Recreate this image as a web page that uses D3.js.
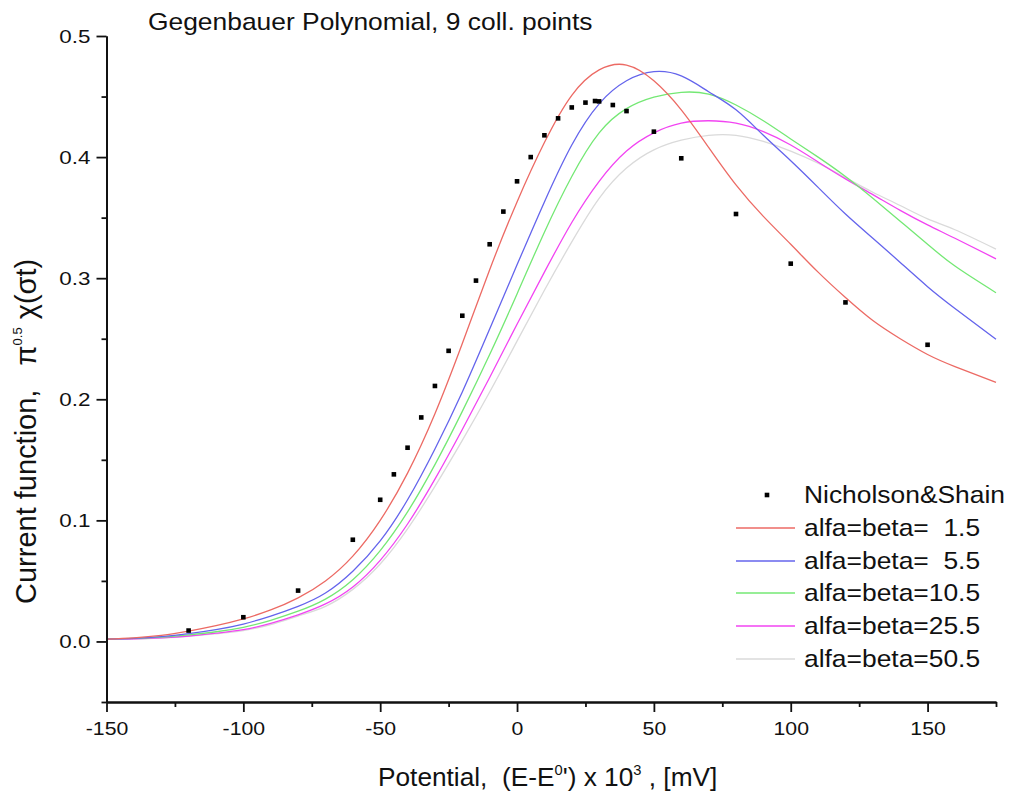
<!DOCTYPE html>
<html>
<head>
<meta charset="utf-8">
<script src="https://cdn.jsdelivr.net/npm/d3@7/dist/d3.min.js"></script>
<style>
  html, body { margin: 0; padding: 0; background: #fff; }
  svg { display: block; font-family: "Liberation Sans", Arial, sans-serif; }
  text { white-space: pre; fill: #111; }
</style>
</head>
<body>
<svg id="chart" width="1012" height="794"></svg>
<script>
// ---------------- data ----------------
const potentials = [-150,-140,-130,-120,-110,-100,-90,-80,-70,-60,-50,-40,-30,-20,-10,0,10,20,30,40,50,60,70,80,90,100,110,120,130,140,150,160,175];

const alfa1_5  = [0.002,0.003,0.005,0.0085,0.013,0.0186,0.026,0.036,0.050,0.0705,0.100,0.139,0.188,0.246,0.307,0.363,0.412,0.451,0.472,0.476,0.463,0.439,0.408,0.377,0.351,0.328,0.305,0.284,0.265,0.250,0.237,0.227,0.214];
const alfa5_5  = [0.002,0.0025,0.004,0.0065,0.0098,0.0144,0.021,0.029,0.040,0.058,0.083,0.117,0.159,0.206,0.258,0.311,0.363,0.410,0.444,0.463,0.4705,0.467,0.454,0.439,0.418,0.397,0.375,0.353,0.333,0.313,0.293,0.275,0.2496];
const alfa10_5 = [0.002,0.0025,0.0035,0.0055,0.008,0.0117,0.0175,0.025,0.035,0.051,0.075,0.107,0.146,0.190,0.237,0.287,0.338,0.384,0.420,0.440,0.4495,0.4535,0.452,0.443,0.430,0.415,0.400,0.384,0.366,0.347,0.328,0.310,0.288];
const alfa25_5 = [0.002,0.0022,0.003,0.0045,0.0068,0.0097,0.015,0.022,0.031,0.045,0.067,0.097,0.134,0.175,0.218,0.262,0.305,0.346,0.380,0.405,0.420,0.428,0.430,0.428,0.421,0.410,0.396,0.382,0.369,0.356,0.344,0.333,0.316];
const alfa50_5 = [0.002,0.002,0.0028,0.0042,0.0063,0.009,0.014,0.021,0.029,0.043,0.064,0.093,0.128,0.166,0.206,0.248,0.290,0.330,0.366,0.391,0.406,0.414,0.418,0.418,0.413,0.405,0.395,0.383,0.371,0.360,0.349,0.340,0.324];

const nsPotential = [-120,-100,-80,-60,-50,-45,-40,-35,-30,-25,-20,-15,-10,-5,0,5,10,15,20,25,28.5,30,35,40,50,60,80,100,120,150];
const nsCurrent   = [0.009,0.020,0.042,0.084,0.117,0.138,0.160,0.185,0.211,0.240,0.269,0.298,0.328,0.355,0.380,0.400,0.418,0.432,0.441,0.445,0.4463,0.446,0.443,0.438,0.421,0.399,0.353,0.312,0.280,0.245];

const seriesNames  = ["alfa=beta=  1.5","alfa=beta=  5.5","alfa=beta=10.5","alfa=beta=25.5","alfa=beta=50.5"];
const seriesValues = [alfa1_5, alfa5_5, alfa10_5, alfa25_5, alfa50_5];
const seriesColors = ["#ec6a64","#6464ec","#74e874","#f244f2","#dadada"];

const xMajorTicks = [-150,-100,-50,0,50,100,150];
const xMinorTicks = [-125,-75,-25,25,75,125,175];
const yMajorTicks = [0.0,0.1,0.2,0.3,0.4,0.5];
const yMinorTicks = [-0.05,0.05,0.15,0.25,0.35,0.45];

// ---------------- chart ----------------
const svg = d3.select("#chart");
svg.append("rect").attr("width",1012).attr("height",794).attr("fill","#fff");

const x = d3.scaleLinear().domain([-150,175]).range([106.5,996]);
const y = d3.scaleLinear().domain([-0.05,0.5]).range([702,36]);

function stretch(sel, k) {
  sel.each(function() {
    const t = d3.select(this);
    const ax = parseFloat(t.attr("x")) || 0;
    t.attr("transform", `translate(${ax},0) scale(${k},1) translate(${-ax},0)`);
  });
}

// curves
const line = d3.line()
  .x((d,i) => x(potentials[i]))
  .y(d => y(d))
  .curve(d3.curveNatural);

const plot = svg.append("g");
seriesValues.slice().reverse().forEach((vals, j) => {
  const i = seriesValues.length - 1 - j;
  plot.append("path")
    .attr("d", line(vals))
    .attr("fill","none")
    .attr("stroke", seriesColors[i])
    .attr("stroke-width", 1.3);
});

// Nicholson & Shain points
plot.selectAll("rect.ns").data(nsPotential).enter().append("rect")
  .attr("class","ns")
  .attr("x", (d) => x(d) - 2.3)
  .attr("y", (d,i) => y(nsCurrent[i]) - 2.3)
  .attr("width", 4.6).attr("height", 4.6)
  .attr("fill", "#000");

// axes
const hyphenInt = d => String(d3.format("d")(d)).replace("\u2212", "-");
const gx = svg.append("g").attr("transform", `translate(0,${y(-0.05)})`);
gx.call(d3.axisBottom(x).tickValues(xMajorTicks).tickSize(10).tickSizeOuter(0).tickPadding(10).tickFormat(hyphenInt));
gx.append("g").call(d3.axisBottom(x).tickValues(xMinorTicks).tickSize(5).tickSizeOuter(0).tickFormat(""));
gx.selectAll("path.domain").attr("stroke-width", 2).attr("stroke","#111");
gx.selectAll("line").attr("stroke","#111").attr("stroke-width", 1.8);
gx.selectAll("text").attr("font-size", 19).attr("font-family","Liberation Sans, Arial, sans-serif").attr("fill","#111");
stretch(gx.selectAll("text"), 1.12);

const gy = svg.append("g").attr("transform", `translate(${x(-150)},0)`);
gy.call(d3.axisLeft(y).tickValues(yMajorTicks).tickSize(10).tickSizeOuter(0).tickPadding(6).tickFormat(d3.format(".1f")));
gy.append("g").call(d3.axisLeft(y).tickValues(yMinorTicks).tickSize(5).tickSizeOuter(0).tickFormat(""));
gy.selectAll("path.domain").attr("stroke-width", 2).attr("stroke","#111");
gy.selectAll("line").attr("stroke","#111").attr("stroke-width", 1.8);
gy.selectAll("text").attr("font-size", 19).attr("font-family","Liberation Sans, Arial, sans-serif").attr("fill","#111");
stretch(gy.selectAll(".tick text"), 1.18);

// title
const title = svg.append("text").attr("x", 148).attr("y", 30).attr("font-size", 24)
  .text("Gegenbauer Polynomial, 9 coll. points");
stretch(title, 1.1);

// x axis title
const xt = svg.append("text").attr("x", 378).attr("y", 786).attr("font-size", 25);
xt.append("tspan").text("Potential,  (E-E");
xt.append("tspan").attr("font-size", 14).attr("dy", -11).text("0");
xt.append("tspan").attr("dy", 11).text("') x 10");
xt.append("tspan").attr("font-size", 14).attr("dy", -11).text("3");
xt.append("tspan").attr("dy", 11).text(" , [mV]");
stretch(xt, 1.05);

// y axis title
const yt = svg.append("text").attr("transform", "translate(36,604) rotate(-90)").attr("font-size", 29);
yt.append("tspan").text("Current function,   π");
yt.append("tspan").attr("font-size", 13).attr("dy", -14).text("0.5");
yt.append("tspan").attr("dy", 14).text(" χ(σt)");

// legend
const legY = [495, 528, 561, 593, 626, 659];
const leg = svg.append("g");
leg.append("rect").attr("x", 767 - 2.3).attr("y", legY[0] - 2.3).attr("width", 4.6).attr("height", 4.6).attr("fill", "#000");
const l0 = leg.append("text").attr("x", 804).attr("y", legY[0] + 8.5).attr("font-size", 24).text("Nicholson&Shain");
stretch(l0, 1.1);
seriesNames.forEach((name, i) => {
  leg.append("line").attr("x1", 736).attr("x2", 795).attr("y1", legY[i+1]).attr("y2", legY[i+1])
    .attr("stroke", seriesColors[i]).attr("stroke-width", 1.6);
  const t = leg.append("text").attr("x", 804).attr("y", legY[i+1] + 8.5).attr("font-size", 24).text(name);
  stretch(t, 1.1);
});
</script>
</body>
</html>
